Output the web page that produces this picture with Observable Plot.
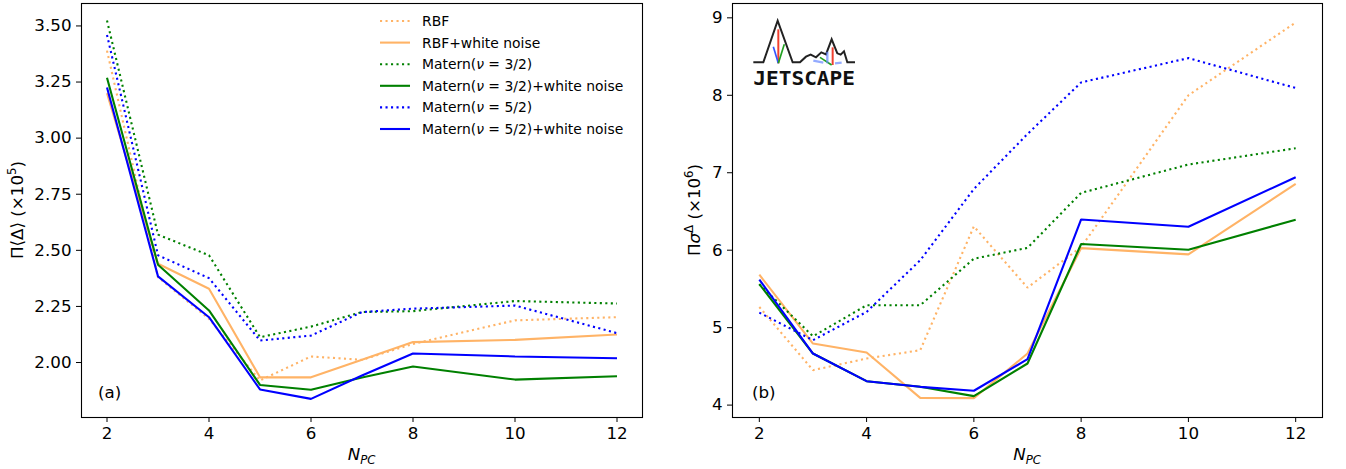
<!DOCTYPE html>
<html><head><meta charset="utf-8">
<script src="https://cdn.jsdelivr.net/npm/d3@7"></script>
<script src="https://cdn.jsdelivr.net/npm/@observablehq/plot@0.6"></script>
<style>
body{margin:0;background:#fff;}
#wrap{position:relative;width:1346px;height:469px;overflow:hidden;background:#fff;}
#wrap > svg{position:absolute;top:0;}
</style></head><body><div id="wrap"></div>
<script>
// ---- data ----
const npc = [2, 3, 4, 5, 6, 7, 8, 10, 12];
const xTicks = [2, 4, 6, 8, 10, 12];
const yTicksA = [2.00, 2.25, 2.50, 2.75, 3.00, 3.25, 3.50];
const yTicksB = [4, 5, 6, 7, 8, 9];

const seriesKeys = ["RBF", "RBF+white noise", "Matern32", "Matern32+white noise", "Matern52", "Matern52+white noise"];
const seriesColors = ["#ffb366", "#ffb366", "#008000", "#008000", "#0000ff", "#0000ff"];
const seriesDotted = [true, false, true, false, true, false];

// panel (a): Π⟨Δ⟩ (×10^5)
const rbfA    = [3.39, 2.38, 2.195, 1.92, 2.027, 2.012, 2.083, 2.188, 2.202];
const rbfWnA  = [3.20, 2.44, 2.329, 1.934, 1.934, 2.012, 2.091, 2.101, 2.125];
const m32A    = [3.524, 2.570, 2.478, 2.113, 2.160, 2.225, 2.229, 2.274, 2.263];
const m32WnA  = [3.269, 2.436, 2.232, 1.900, 1.879, 1.933, 1.982, 1.924, 1.939];
const m52A    = [3.46, 2.478, 2.376, 2.098, 2.120, 2.225, 2.240, 2.254, 2.131];
const m52WnA  = [3.226, 2.384, 2.202, 1.880, 1.838, 1.942, 2.040, 2.027, 2.019];

// panel (b): Πσ^Δ (×10^6)
const rbfB    = [5.267, 4.451, 4.601, 4.709, 6.307, 5.517, 6.040, 8.000, 8.940];
const rbfWnB  = [5.684, 4.795, 4.679, 4.094, 4.090, 4.666, 6.027, 5.946, 6.857];
const m32B    = [5.560, 4.889, 5.289, 5.289, 5.890, 6.030, 6.740, 7.106, 7.316];
const m32WnB  = [5.563, 4.666, 4.309, 4.236, 4.116, 4.537, 6.080, 6.006, 6.393];
const m52B    = [5.194, 4.838, 5.203, 5.870, 6.790, 7.500, 8.166, 8.480, 8.094];
const m52WnB  = [5.620, 4.666, 4.309, 4.236, 4.185, 4.593, 6.397, 6.303, 6.942];

const panelA = [rbfA, rbfWnA, m32A, m32WnA, m52A, m52WnA];
const panelB = [rbfB, rbfWnB, m32B, m32WnB, m52B, m52WnB];

function tidy(values) {
  return values.map((vals, i) => vals.map((v, j) => ({series: seriesKeys[i], npc: npc[j], v})));
}

const FONT = "DejaVu Sans, sans-serif";

function makePanel({series, yDomain, yTicks, yFormat, width, marginLeft, marginRight}) {
  const rows = tidy(series);
  const lines = rows.map((r, i) => Plot.line(r, {
    x: "npc", y: "v",
    stroke: seriesColors[i],
    strokeWidth: 2.1,
    strokeDasharray: seriesDotted[i] ? "2.1,3.4" : null,
    strokeLinecap: "butt",
    strokeLinejoin: "miter"
  }));
  return Plot.plot({
    width, height: 469,
    marginLeft, marginRight, marginTop: 3, marginBottom: 52,
    style: {fontFamily: FONT, fontSize: "16.7px", color: "black", background: "white", overflow: "visible"},
    x: {domain: [1.5, 12.5]},
    y: {domain: yDomain},
    marks: [
      ...lines,
      Plot.frame({stroke: "black", strokeWidth: 1.1}),
      Plot.axisX({ticks: xTicks, tickSize: 5, tickPadding: 5, label: null, fontSize: 16.7}),
      Plot.axisY({ticks: yTicks, tickFormat: yFormat, tickSize: 5, tickPadding: 5, label: null, fontSize: 16.7})
    ]
  });
}

const wrap = document.getElementById("wrap");
const pA = makePanel({series: panelA, yDomain: [1.755, 3.60], yTicks: yTicksA, yFormat: d3.format(".2f"), width: 690, marginLeft: 81, marginRight: 48});
const pB = makePanel({series: panelB, yDomain: [3.84, 9.185], yTicks: yTicksB, yFormat: d3.format("d"), width: 656, marginLeft: 42, marginRight: 24});
pA.style.left = "0px";
pB.style.left = "690px";
wrap.appendChild(pA);
wrap.appendChild(pB);

// ---- labels ----
function txt(svg, x, y, size, anchor) {
  return svg.append("text").attr("x", x).attr("y", y).attr("text-anchor", anchor || "start")
    .attr("font-family", FONT).attr("font-size", size).attr("fill", "black");
}
function addXLabel(svg, cx) {
  const t = txt(svg, cx, 460, 16.7, "middle");
  t.append("tspan").attr("font-style", "italic").text("N");
  t.append("tspan").attr("font-style", "italic").attr("font-size", 11.7).attr("dy", 3.5).text("PC");
}
const sA = d3.select(pA), sB = d3.select(pB);
addXLabel(sA, 361.5);
addXLabel(sB, 1027 - 690);
txt(sA, 98, 398, 16.7).text("(a)");
txt(sB, 752 - 690, 398, 16.7).text("(b)");

// y labels
{
  const t = sA.append("text").attr("transform", "translate(23,210) rotate(-90)").attr("text-anchor", "middle")
    .attr("font-family", FONT).attr("font-size", 16.7).attr("fill", "black");
  t.append("tspan").text("\u03A0\u27E8\u0394\u27E9 (\u00D710");
  t.append("tspan").attr("font-size", 11.7).attr("dy", -7).text("5");
  t.append("tspan").attr("dy", 7).text(")");
}
{
  const t = sB.append("text").attr("transform", "translate(10,210) rotate(-90)").attr("text-anchor", "middle")
    .attr("font-family", FONT).attr("font-size", 16.7).attr("fill", "black");
  t.append("tspan").text("\u03A0");
  t.append("tspan").attr("font-style", "italic").text("\u03C3");
  t.append("tspan").attr("font-size", 11.7).attr("dy", -7).text("\u0394");
  t.append("tspan").attr("dy", 7).text(" (\u00D710");
  t.append("tspan").attr("font-size", 11.7).attr("dy", -7).text("6");
  t.append("tspan").attr("dy", 7).text(")");
}

// legend in panel (a)
const legendLabels = [
  ["RBF"], ["RBF+white noise"],
  ["Matern(", "\u03BD", " = 3/2)"], ["Matern(", "\u03BD", " = 3/2)+white noise"],
  ["Matern(", "\u03BD", " = 5/2)"], ["Matern(", "\u03BD", " = 5/2)+white noise"]
];
legendLabels.forEach((parts, i) => {
  const y = 21 + i * 21.6;
  sA.append("line").attr("x1", 380).attr("x2", 410).attr("y1", y).attr("y2", y)
    .attr("stroke", seriesColors[i]).attr("stroke-width", 2.1)
    .attr("stroke-dasharray", seriesDotted[i] ? "2.1,3.4" : null);
  const t = txt(sA, 422, y + 5, 13.9);
  parts.forEach((p, k) => {
    const ts = t.append("tspan").text(p);
    if (k === 1) ts.attr("font-style", "italic");
  });
});

// JETSCAPE logo in panel (b)
{
  const g = sB.append("g").attr("transform", "translate(" + (740 - 690) + ",10) scale(0.3333)");
  g.append("polyline").attr("fill", "none").attr("stroke", "#222").attr("stroke-width", 6)
    .attr("points", "40,157 70,157 113,32 158,157 180,157 198,140 212,134 228,142 244,127 258,133 275,88 292,130 302,134 312,124 322,157 345,157");
  g.append("line").attr("x1", 115).attr("y1", 58).attr("x2", 115).attr("y2", 160).attr("stroke", "#f04030").attr("stroke-width", 6);
  g.append("line").attr("x1", 100).attr("y1", 110).attr("x2", 115).attr("y2", 160).attr("stroke", "#3355ff").attr("stroke-width", 5);
  g.append("line").attr("x1", 115).attr("y1", 160).attr("x2", 133).attr("y2", 103).attr("stroke", "#20a020").attr("stroke-width", 5);
  g.append("line").attr("x1", 278).attr("y1", 112).attr("x2", 278).attr("y2", 165).attr("stroke", "#f04030").attr("stroke-width", 6);
  g.append("line").attr("x1", 240).attr("y1", 142).attr("x2", 275).attr("y2", 165).attr("stroke", "#20a020").attr("stroke-width", 5);
  g.append("path").attr("d", "M220,152 L250,158 M262,125 L262,160 M285,160 L305,158").attr("stroke", "#6688ff").attr("stroke-width", 7).attr("fill", "none").attr("opacity", 0.7);
  g.append("text").attr("x", 40).attr("y", 225).attr("text-anchor", "start").attr("textLength", 305).attr("lengthAdjust", "spacingAndGlyphs")
    .attr("font-family", "DejaVu Sans Mono, monospace").attr("font-weight", "bold").attr("font-size", 60)
    .attr("fill", "#111").text("JETSCAPE");
}
</script></body></html>
